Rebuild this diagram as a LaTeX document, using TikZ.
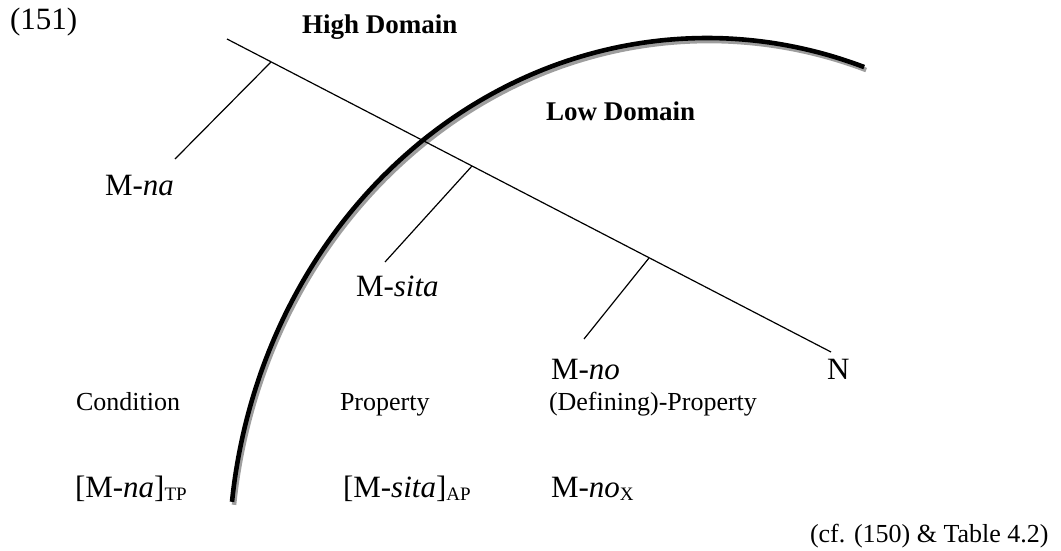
\documentclass[tikz,border=0pt]{standalone}
\usepackage{fontspec}
\setmainfont{Liberation Serif}
\newcommand{\fsbig}{\fontsize{31}{36}\selectfont}
\newcommand{\fsmid}{\fontsize{27}{32}\selectfont}
\newcommand{\fssmall}{\fontsize{26}{30}\selectfont}
\newcommand{\fssub}{\fontsize{19}{22}\selectfont}
\newcommand{\lowsub}[1]{\raisebox{-0.25ex}{\fssub #1}}
\begin{document}
\begin{tikzpicture}[x=1pt,y=-1pt,
  lbl/.style={anchor=base west,inner sep=0pt,outer sep=0pt},
  thinline/.style={line width=1.2pt,black},
  domainarc/.style={line width=4.6pt,black},
  arcshadow/.style={line width=4.6pt,black!38}]
\useasboundingbox (0,0) rectangle (1061,551);
% arc (shadow then arc): part of an ellipse
\draw[arcshadow,shift={(2,3)}] plot[domain=70.8:173.6,samples=120,smooth] ({707+478*cos(\x)},{560-522*sin(\x)});
\draw[domainarc] plot[domain=70.8:173.6,samples=120,smooth] ({707+478*cos(\x)},{560-522*sin(\x)});
% tree
\coordinate (top) at (227,39);
\coordinate (nend) at (831,352);
\coordinate (b1) at (271,62);
\coordinate (e1) at (175,159);
\coordinate (b2) at (472,166);
\coordinate (e2) at (385,262);
\coordinate (b3) at (649,258);
\coordinate (e3) at (584,339);
\draw[thinline] (top) -- (nend);
\draw[thinline] (b1) -- (e1);
\draw[thinline] (b2) -- (e2);
\draw[thinline] (b3) -- (e3);
% labels
\node[lbl] (ex) at (10,30) {\fsbig (151)};
\node[lbl] (high) at (302,34) {\fsmid\bfseries High Domain};
\node[lbl] (low) at (546,121) {\fsmid\bfseries Low Domain};
\node[lbl] (mna) at (105,195) {\fsbig M-\textit{na}};
\node[lbl] (msita) at (356,296) {\fsbig M-\textit{sita}};
\node[lbl] (mno) at (551,379) {\fsbig M-\textit{no}};
\node[lbl] (n) at (827,379) {\fsbig N};
\node[lbl] (cond) at (76,410) {\fssmall Condition};
\node[lbl] (prop) at (340,410) {\fssmall Property};
\node[lbl] (dprop) at (549,410) {\fssmall (Defining)-Property};
\node[lbl] (tp) at (75,497) {\fsbig [M-\textit{na}]\lowsub{TP}};
\node[lbl] (ap) at (343,497) {\fsbig [M-\textit{sita}]\lowsub{AP}};
\node[lbl] (nox) at (551,497) {\fsbig M-\textit{no}\lowsub{X}};
\node[lbl] (cf) at (810,542) {\fssmall (cf. (150) \& Table 4.2)};
\end{tikzpicture}
\end{document}
